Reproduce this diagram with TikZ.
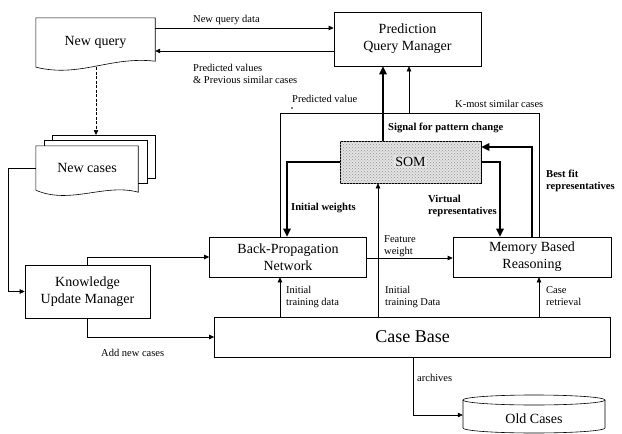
\documentclass[tikz,border=0pt]{standalone}
\usepackage{fontspec}
\setmainfont{Liberation Serif}
\usetikzlibrary{arrows.meta,patterns,calc}
\begin{document}
\begin{tikzpicture}[x=1pt,y=-1pt,
  box/.style={draw,line width=0.6pt,align=center,inner sep=0pt,font=\fontsize{14}{17}\selectfont},
  ghost/.style={align=center,inner sep=0pt,font=\fontsize{14}{17}\selectfont},
  lbl/.style={anchor=west,align=left,inner sep=0pt,font=\fontsize{10.5}{12.5}\selectfont},
  blbl/.style={anchor=west,align=left,inner sep=0pt,font=\bfseries\fontsize{10.6}{12.5}\selectfont},
  conn/.style={line width=0.6pt,-{Triangle[length=5pt,width=4.5pt]}},
  plain/.style={line width=0.6pt},
  tconn/.style={line width=1.8pt,-{Triangle[length=8pt,width=7.5pt]}},
  tline/.style={line width=1.8pt},
  dconn/.style={line width=0.6pt,dash pattern=on 3pt off 1.5pt,-{Triangle[length=5pt,width=4.5pt]}}
]
\useasboundingbox (0,0) rectangle (622,434);

% ---- boxes ----
\node[box,minimum width=147,minimum height=54] (pqm) at (407.5,39) {Prediction\\Query Manager};
\node[box,minimum width=141,minimum height=42,fill=gray!22,
      postaction={pattern=crosshatch dots,pattern color=gray!85}] (som) at (410.5,162) {};
\node[ghost,fill=gray!22,inner sep=1pt] at (som) {SOM};
\node[box,minimum width=157,minimum height=40] (bpn) at (288,257) {Back-Propagation\\Network};
\node[box,minimum width=158,minimum height=40] (mbr) at (532,257) {Memory Based\\Reasoning};
\node[box,minimum width=396,minimum height=40,font=\fontsize{18}{20}\selectfont] (cb) at (412.5,337) {Case Base};
\node[box,minimum width=125,minimum height=53] (kum) at (87.5,291.5) {Knowledge\\Update Manager};

% ---- New query document ----
\node[ghost,minimum width=119,minimum height=49] (nq) at (95.5,42.5) {New query};
\draw[line width=0.6pt] (nq.south west) -- (nq.north west) -- (nq.north east) -- ([yshift=6pt]nq.south east)
   .. controls (110,56) and (80,78) .. (nq.south west);

% ---- New cases stacked documents ----
\draw[line width=0.6pt] (52,140) -- (52,135) -- (155,135) -- (155,178) -- (147,178);
\draw[line width=0.6pt] (44,146) -- (44,140) -- (147,140) -- (147,183) -- (138,183);
\node[ghost,minimum width=102,minimum height=44] (nc) at (87,168) {New cases};
\draw[line width=0.6pt] (nc.south west) -- (nc.north west) -- (nc.north east) -- ([yshift=-2pt]nc.south east)
   .. controls (105,183) and (70,205) .. (nc.south west);
\coordinate (ncbtop) at (96,135);

% ---- Old cases cylinder ----
\node[ghost,minimum width=142,minimum height=24,font=\fontsize{14}{17}\selectfont] (oc) at (534,419) {Old Cases};
\draw[line width=0.6pt] (534,400) ellipse [x radius=71,y radius=5];
\draw[line width=0.6pt] (463,400) -- (463,428) arc[start angle=180,end angle=0,x radius=71,y radius=5] -- (605,400);

% ---- connectors ----
\draw[conn] (nq.east |- 0,28) -- (pqm.west |- 0,28);
\draw[conn] (pqm.west |- 0,51) -- (nq.east |- 0,51);
\draw[dconn] (nq.south -| 96,0) -- (ncbtop);
\draw[conn] (nc.west) -- (8,168) |- (kum.west);
\draw[conn] (kum.north) |- (bpn.west);
\draw[conn] (kum.south) |- (cb.west);
\draw[conn] (cb.south -| 413,0) |- (oc.west |- 0,415);
\draw[conn] (cb.north -| 280,0) -- (bpn.south -| 280,0);
\draw[conn] (cb.north -| 378,0) -- (som.south -| 378,0);
\draw[conn] (cb.north -| 539,0) -- (mbr.south -| 539,0);
\draw[conn] (bpn.east |- 0,258) -- (mbr.west |- 0,258);
\draw[plain] (bpn.north -| 280,0) |- (539,113) -- (mbr.north -| 539,0);
\draw[conn] (409,113) -- (pqm.south -| 409,0);
\draw[tconn] (som.north -| 383,0) -- (pqm.south -| 383,0);
\draw[tconn] (som.west) -| (bpn.north -| 287,0);
\draw[tconn] (som.east) -| (mbr.north -| 500,0);
\draw[tconn] (mbr.north -| 532,0) |- (som.east |- 0,147);

% ---- labels ----
\node[lbl] at (193,20) {New query data};
\node[lbl] at (193,74) {Predicted values\\\& Previous similar cases};
\node[lbl] at (292,99) {Predicted value};
\fill (292,108) circle (0.9);
\node[lbl] at (455,104) {K-most similar cases};
\node[blbl] at (388,128) {Signal for pattern change};
\node[blbl] at (291,208) {Initial weights};
\node[blbl] at (428,206) {Virtual\\representatives};
\node[blbl] at (546,181) {Best fit\\representatives};
\node[lbl] at (384,246) {Feature\\weight};
\node[lbl] at (286,297) {Initial\\training data};
\node[lbl] at (385,297) {Initial\\training Data};
\node[lbl] at (546,296) {Case\\retrieval};
\node[lbl] at (101,353) {Add new cases};
\node[lbl] at (417,378) {archives};
\end{tikzpicture}
\end{document}
